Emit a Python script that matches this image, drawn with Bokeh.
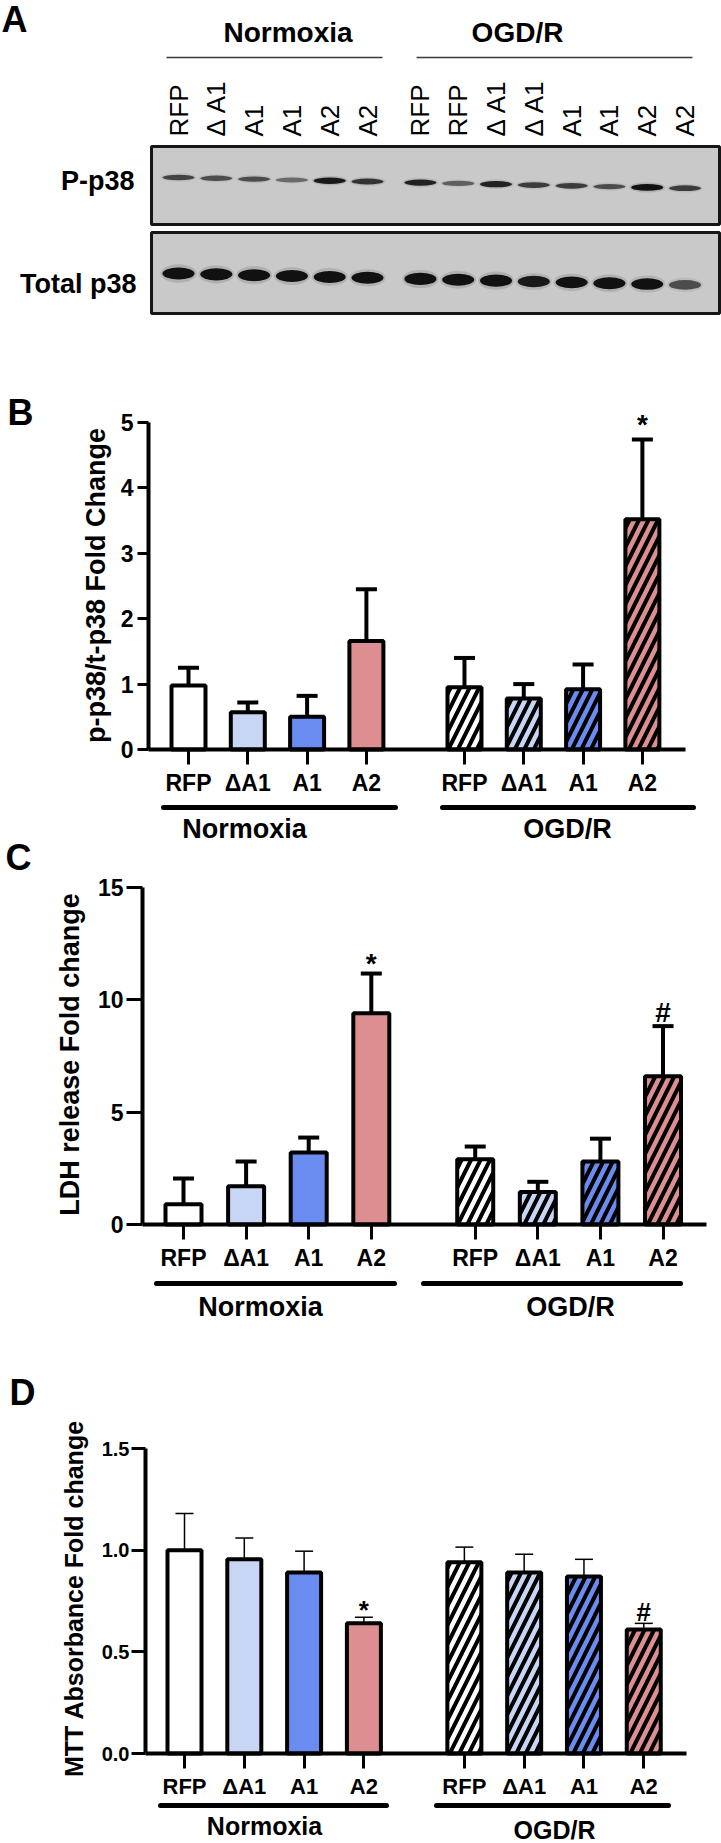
import math
from bokeh.plotting import figure
from bokeh.models import (Range1d, FixedTicker, CustomJSTickFormatter,
                          PrintfTickFormatter, LinearAxis, ColumnDataSource)
from bokeh.core.properties import value
from bokeh.embed import file_html
from bokeh.resources import INLINE

FONT = "Liberation Sans"

# ------------------------------------------------------------------ data
conditions = ["Normoxia", "OGD/R"]
constructs = ["RFP", "ΔA1", "A1", "A2"]
bar_colors = ["#ffffff", "#c7d6f4", "#6a8bef", "#dc8e90"]

# panel B : p-p38 / t-p38 fold change (mean, SEM) Normoxia x4 then OGD/R x4
pp38_mean = [0.98, 0.57, 0.50, 1.66, 0.95, 0.78, 0.92, 3.52]
pp38_sem = [0.27, 0.15, 0.32, 0.79, 0.45, 0.22, 0.38, 1.22]
pp38_sig = ["", "", "", "", "", "", "", "*"]

# panel C : LDH release fold change
ldh_mean = [0.90, 1.70, 3.20, 9.40, 2.90, 1.45, 2.80, 6.60]
ldh_sem = [1.15, 1.10, 0.67, 1.77, 0.57, 0.45, 1.02, 2.23]
ldh_sig = ["", "", "", "*", "", "", "", "#"]

# panel D : MTT absorbance fold change
mtt_mean = [1.00, 0.955, 0.89, 0.64, 0.94, 0.89, 0.87, 0.61]
mtt_sem = [0.18, 0.105, 0.105, 0.03, 0.075, 0.09, 0.085, 0.03]
mtt_sig = ["", "", "", "*", "", "", "", "#"]

# panel A : western blot lanes and relative band intensities (0-1)
blot_lanes = ["RFP", "Δ A1", "A1", "A1", "A2", "A2",
              "RFP", "RFP", "Δ A1", "Δ A1", "A1", "A1", "A2", "A2"]
blot_condition = [0, 0, 0, 0, 0, 0, 1, 1, 1, 1, 1, 1, 1, 1]
pp38_band = [0.55, 0.50, 0.50, 0.35, 0.80, 0.65, 0.75, 0.40, 0.75, 0.60, 0.60, 0.50, 0.95, 0.60]
tp38_band = [0.95, 0.93, 0.93, 0.90, 0.92, 0.88, 0.95, 0.90, 0.95, 0.80, 0.88, 0.90, 0.85, 0.50]
blot_rows = ["P-p38", "Total p38"]

PW, PH = 721, 1843

# one canvas in page pixels (y grows downward); each bar chart gets its own ranges
p = figure(width=PW, height=PH, x_range=Range1d(0, PW), y_range=Range1d(PH, 0),
           x_axis_type=None, y_axis_type=None, min_border=0,
           output_backend="svg", toolbar_location=None)
p.grid.visible = False
p.outline_line_color = None
p.background_fill_color = "white"
p.border_fill_color = "white"


def bold_text(x, y, text, size, align="center", angle=0.0, style="bold"):
    p.text(x=x, y=y, text=text, angle=angle, text_align=align, text_baseline="middle",
           text_font=value(FONT), text_font_style=style, text_font_size=size,
           text_color="black")


# ------------------------------------------------------------------ panel A
def build_blot():
    LX0, LSTEP = 178.0, 37.8
    lane_x = [LX0 + LSTEP * (i + (0.4 if c else 0.0)) for i, c in enumerate(blot_condition)]

    # blot frames
    p.quad(left=[lane_x[0] - 27] * 2, right=[719] * 2, top=[146, 232], bottom=[224, 313],
           fill_color="#c9c9c9", line_color="#161616", line_width=3)

    # bands
    for vals, y_base, slope, h0 in [(pp38_band, 177, 0.8, 7.0), (tp38_band, 273, 0.85, 12.5)]:
        ys = [y_base + slope * (x - LX0) / LSTEP for x in lane_x]
        hs = [h0 * (0.55 + 0.45 * v) for v in vals]
        p.ellipse(x=lane_x, y=ys, width=36, height=[h * 1.5 for h in hs],
                  fill_color="#3a3a3a", fill_alpha=[0.18 * v for v in vals], line_color=None)
        p.ellipse(x=lane_x, y=ys, width=32, height=hs,
                  fill_color="#111111", fill_alpha=[min(1.0, 0.15 + v) for v in vals],
                  line_color=None)

    # lane labels
    p.text(x=lane_x, y=[136] * len(lane_x), text=blot_lanes, angle=math.pi / 2,
           text_align="left", text_baseline="middle", text_font=value(FONT),
           text_font_size="26px", text_color="black")

    # condition headers with rules
    bold_text([287.5, 517], [32, 32], conditions, "28px")
    p.segment(x0=[166, 416], y0=[57, 57], x1=[382, 692], y1=[57, 57],
              line_color="#3a3a3a", line_width=1.5)

    # row labels and panel letter
    bold_text([134, 136], [180, 283], blot_rows, "27px", align="right")
    bold_text([1], [19], ["A"], "36px", align="left")


# ------------------------------------------------------------------ bar panels
def build_panel(L, means, sems, sig):
    name = L["letter"]
    ppu = (L["y0"] - L["ytop_page"]) / L["ytop"]

    def X(px):
        return (px - L["first_x"]) / L["step"]

    def Y(py):
        return (L["y0"] - py) / ppu

    p.extra_x_ranges = {**p.extra_x_ranges, name: Range1d(X(0), X(PW))}
    p.extra_y_ranges = {**p.extra_y_ranges, name: Range1d(Y(PH), Y(0))}
    rn = dict(x_range_name=name, y_range_name=name)

    n = len(constructs)
    xs = [i + c * (n + L["gap"]) for c in range(len(conditions)) for i in range(n)]
    labels = constructs * len(conditions)
    tops = [m + s for m, s in zip(means, sems)]
    hatch = [" "] * n + ["/"] * n
    yoff = [L["sig_off"].get(s, 0) for s in sig]
    src = ColumnDataSource(dict(x=xs, m=means, t=tops, c=bar_colors * len(conditions),
                                h=hatch, sig=sig, yo=yoff))

    # error bars (upper only)
    p.segment(x0="x", y0="m", x1="x", y1="t", source=src,
              line_width=L["err_w"], line_color="black", **rn)
    p.scatter(x="x", y="t", marker="dash", size=L["cap"], line_width=L["err_w"],
              line_color="black", source=src, **rn)
    # bars
    p.vbar(x="x", top="m", bottom=0, width=L["bar_px"] / L["step"], source=src,
           fill_color="c", line_color="black", line_width=4,
           hatch_pattern="h", hatch_color="black", hatch_weight=4, hatch_scale=19, **rn)
    # significance marks
    p.text(x="x", y="t", text="sig", y_offset="yo", source=src, text_align="center",
           text_baseline="alphabetic", text_font=value(FONT), text_font_style="bold",
           text_font_size=L["sig_size"], text_color="black", **rn)

    # y axis
    ya = LinearAxis(fixed_location=X(L["axis_x"]), bounds=(0, L["ytop"]),
                    ticker=FixedTicker(ticks=L["yticks"]), **rn)
    if L.get("yfmt"):
        ya.formatter = PrintfTickFormatter(format=L["yfmt"])
    ya.axis_line_width = 4
    ya.axis_line_color = "black"
    ya.major_tick_line_width = 3
    ya.major_tick_line_color = "black"
    ya.major_tick_out = L["ytick_out"]
    ya.major_tick_in = 0
    ya.minor_tick_out = 0
    ya.minor_tick_in = 0
    ya.major_label_standoff = L["ystand"]
    ya.major_label_text_font = FONT
    ya.major_label_text_font_style = "bold"
    ya.major_label_text_font_size = L["ytick_size"]
    ya.major_label_text_color = "black"
    p.add_layout(ya, "left")

    # x axis drawn at y = 0
    xa = LinearAxis(fixed_location=0, bounds=(X(L["axis_x"]), X(L["axis_end"])),
                    ticker=FixedTicker(ticks=xs), **rn)
    xa.formatter = CustomJSTickFormatter(args=dict(pos=xs, lab=labels), code="""
        let best = 0; let bd = 1e9;
        for (let i = 0; i < pos.length; i++) {
            const d = Math.abs(pos[i] - tick);
            if (d < bd) { bd = d; best = i; }
        }
        return lab[best];
    """)
    xa.axis_line_width = 4
    xa.axis_line_color = "black"
    xa.major_tick_line_width = 3
    xa.major_tick_line_color = "black"
    xa.major_tick_out = 15
    xa.major_tick_in = 0
    xa.minor_tick_out = 0
    xa.minor_tick_in = 0
    xa.major_label_standoff = 5
    xa.major_label_text_font = FONT
    xa.major_label_text_font_style = "bold"
    xa.major_label_text_font_size = L["xtick_size"]
    xa.major_label_text_color = "black"
    p.add_layout(xa, "below")

    # condition rules and names under the axis (page pixels)
    gl = L["group_lines"]
    p.segment(x0=[a for a, b in gl], x1=[b for a, b in gl],
              y0=[L["gl_y"]] * len(gl), y1=[L["gl_y"]] * len(gl),
              line_width=5, line_color="black", line_cap="round")
    bold_text(L["gt_x"], L["gt_y"], conditions, L["gt_size"])

    # panel letter and y axis title
    bold_text([L["letter_x"]], [L["letter_y"]], [L["letter"]], "36px", align="left")
    bold_text([L["ylab_x"]], [L["ylab_y"]], [L["ylabel"]], L["ylab_size"],
              angle=math.pi / 2)


LB = dict(axis_x=148, axis_end=685, first_x=188, step=59.3,
          gap=0.654, y0=749, ytop_page=422, ytop=5, yticks=[0, 1, 2, 3, 4, 5],
          ytick_out=11, ystand=4, ytick_size="23px", xtick_size="23px",
          bar_px=34, err_w=4, cap=21, sig_size="28px", sig_off={"*": -15, "#": -14},
          group_lines=[(163, 395), (442, 693)], gl_y=807, gt_x=[244, 567], gt_y=[828, 828],
          gt_size="27px", letter="B", letter_x=7, letter_y=412,
          ylabel="p-p38/t-p38 Fold Change", ylab_x=95, ylab_y=585, ylab_size="27px")

LC = dict(axis_x=142, axis_end=706, first_x=183, step=62.6,
          gap=0.66, y0=1224, ytop_page=887, ytop=15, yticks=[0, 5, 10, 15],
          ytick_out=16, ystand=3, ytick_size="23px", xtick_size="23px",
          bar_px=36, err_w=4, cap=21, sig_size="28px", sig_off={"*": -10, "#": -14},
          group_lines=[(156, 394), (423, 680)], gl_y=1283, gt_x=[260, 570], gt_y=[1306, 1306],
          gt_size="27px", letter="C", letter_x=5, letter_y=857,
          ylabel="LDH release Fold change", ylab_x=69, ylab_y=1054, ylab_size="27px")

LD = dict(axis_x=145, axis_end=686, first_x=184, step=59.8,
          gap=0.68, y0=1753, ytop_page=1448, ytop=1.5, yticks=[0.0, 0.5, 1.0, 1.5],
          yfmt="%.1f", ytick_out=14, ystand=2, ytick_size="20px", xtick_size="22px",
          bar_px=34, err_w=1.5, cap=18, sig_size="26px", sig_off={"*": -7, "#": -11},
          group_lines=[(160, 386), (436, 668)], gl_y=1805, gt_x=[264, 554], gt_y=[1825, 1829],
          gt_size="25px", letter="D", letter_x=9, letter_y=1392,
          ylabel="MTT Absorbance Fold change", ylab_x=73, ylab_y=1598, ylab_size="25px")

build_blot()
build_panel(LB, pp38_mean, pp38_sem, pp38_sig)
build_panel(LC, ldh_mean, ldh_sem, ldh_sig)
build_panel(LD, mtt_mean, mtt_sem, mtt_sig)

with open("out.html", "w", encoding="utf-8") as f:
    f.write(file_html(p, INLINE))
